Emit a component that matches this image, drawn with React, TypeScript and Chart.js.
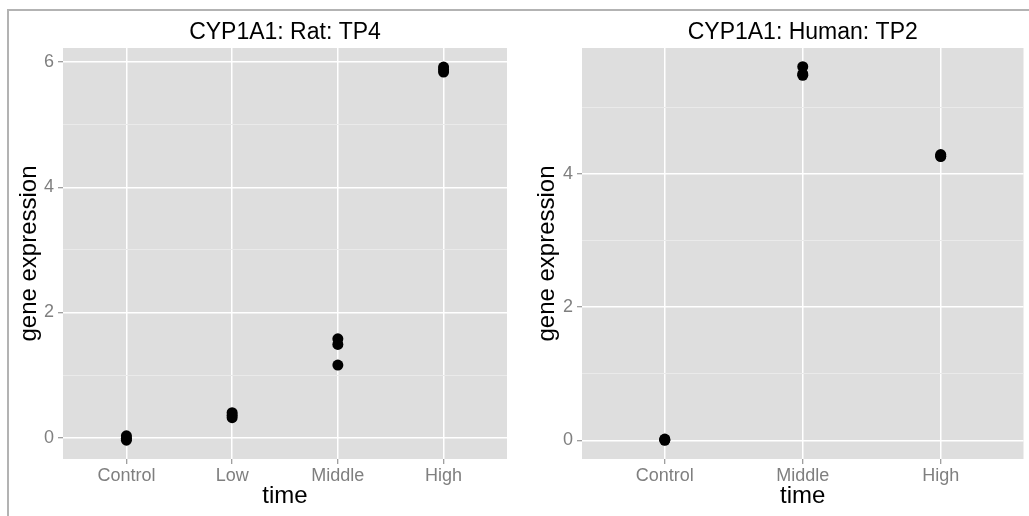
import React, { useEffect, useRef } from "react";
import { Chart, registerables } from "chart.js";

Chart.register(...registerables);

// ---------- data ----------
const ratCategories = ["Control", "Low", "Middle", "High"];
const ratControl = [0.03, -0.01, -0.04];
const ratLow = [0.4, 0.36, 0.32];
const ratMiddle = [1.58, 1.49, 1.16];
const ratHigh = [5.92, 5.88, 5.84];
const ratYTicks = [0, 1, 2, 3, 4, 5, 6];

const humanCategories = ["Control", "Middle", "High"];
const humanControl = [0.02, 0.01, 0.0];
const humanMiddle = [5.61, 5.5, 5.48];
const humanHigh = [4.29, 4.27, 4.26];
const humanYTicks = [0, 1, 2, 3, 4, 5];

const FONT = "'Liberation Sans', Arial, Helvetica, sans-serif";

type Panel = {
  title: string;
  categories: string[];
  groups: number[][];
  yMin: number;
  yMax: number;
  yTicks: number[];
  canvasLeft: number;
  canvasWidth: number;
  yAxisWidth: number;
  padRight: number;
  yTitlePad: number;
};

const panels: Panel[] = [
  {
    title: "CYP1A1: Rat: TP4",
    categories: ratCategories,
    groups: [ratControl, ratLow, ratMiddle, ratHigh],
    yMin: -0.34,
    yMax: 6.224,
    yTicks: ratYTicks,
    canvasLeft: 0,
    canvasWidth: 514,
    yAxisWidth: 63,
    padRight: 7,
    yTitlePad: 15,
  },
  {
    title: "CYP1A1: Human: TP2",
    categories: humanCategories,
    groups: [humanControl, humanMiddle, humanHigh],
    yMin: -0.28,
    yMax: 5.89,
    yTicks: humanYTicks,
    canvasLeft: 514,
    canvasWidth: 515,
    yAxisWidth: 68,
    padRight: 3,
    yTitlePad: 19,
  },
];

const panelBg = {
  id: "panelBg",
  beforeDraw(chart: any) {
    const { ctx, chartArea: a } = chart;
    ctx.save();
    ctx.fillStyle = "#DEDEDE";
    ctx.fillRect(a.left, a.top, a.right - a.left, a.bottom - a.top);
    ctx.restore();
  },
};

function PanelChart({ p }: { p: Panel }) {
  const ref = useRef<HTMLCanvasElement | null>(null);
  useEffect(() => {
    if (!ref.current) return;
    const points: { x: number; y: number }[] = [];
    p.groups.forEach((g, i) => g.forEach((v) => points.push({ x: i + 1, y: v })));
    const even = (ctx: any) => ctx.tick && Math.round(ctx.tick.value) % 2 === 0;
    const chart = new Chart(ref.current, {
      type: "scatter",
      data: {
        datasets: [
          {
            data: points,
            backgroundColor: "#000",
            borderColor: "#000",
            borderWidth: 0,
            pointRadius: 5.5,
            pointHoverRadius: 5.5,
          },
        ],
      },
      options: {
        responsive: false,
        animation: false,
        events: [],
        layout: { padding: { left: 0, right: p.padRight, top: 0, bottom: 0 } },
        plugins: {
          legend: { display: false },
          tooltip: { enabled: false },
          title: {
            display: true,
            text: p.title,
            fullSize: false,
            color: "#000",
            font: { family: FONT, size: 23, weight: "normal" },
            padding: { top: 19.2, bottom: 1.2 },
          },
        },
        scales: {
          x: {
            type: "linear",
            min: 0.4,
            max: p.categories.length + 0.6,
            afterBuildTicks: (s: any) => {
              s.ticks = p.categories.map((_, i) => ({ value: i + 1 }));
            },
            afterFit: (s: any) => {
              s.height = 57;
            },
            ticks: {
              autoSkip: false,
              maxRotation: 0,
              minRotation: 0,
              padding: 1,
              color: "#7f7f7f",
              font: { family: FONT, size: 18 },
              callback: (v: any) => p.categories[Math.round(v) - 1] ?? "",
            },
            grid: {
              color: "#ffffff",
              lineWidth: 1.5,
              tickColor: "#7f7f7f",
              tickLength: 5,
              tickWidth: 1,
            },
            border: { display: false },
            title: {
              display: true,
              text: "time",
              color: "#000",
              font: { family: FONT, size: 24 },
              padding: { top: 0, bottom: 5 },
            },
          },
          y: {
            type: "linear",
            min: p.yMin,
            max: p.yMax,
            afterBuildTicks: (s: any) => {
              s.ticks = p.yTicks.map((v) => ({ value: v }));
            },
            afterFit: (s: any) => {
              s.width = p.yAxisWidth;
            },
            ticks: {
              padding: 4,
              color: "#7f7f7f",
              font: { family: FONT, size: 18 },
              callback: (v: any) => (Math.round(v) % 2 === 0 ? String(Math.round(v)) : ""),
            },
            grid: {
              color: (ctx: any) => (even(ctx) ? "#ffffff" : "#EAEAEA"),
              lineWidth: (ctx: any) => (even(ctx) ? 1.5 : 1),
              tickColor: (ctx: any) => (even(ctx) ? "#7f7f7f" : "rgba(0,0,0,0)"),
              tickLength: 5,
              tickWidth: 1,
            },
            border: { display: false },
            title: {
              display: true,
              text: "gene expression",
              color: "#000",
              font: { family: FONT, size: 24 },
              padding: { top: p.yTitlePad, bottom: 0 },
            },
          },
        },
      } as any,
      plugins: [panelBg],
    });
    return () => chart.destroy();
  }, [p]);
  return (
    <canvas
      ref={ref}
      width={p.canvasWidth}
      height={516}
      style={{
        position: "absolute",
        left: p.canvasLeft,
        top: 0,
        width: p.canvasWidth,
        height: 516,
        display: "block",
      }}
    />
  );
}

export default function App() {
  return (
    <div
      style={{
        position: "absolute",
        left: 0,
        top: 0,
        width: 1029,
        height: 516,
        background: "#fff",
        overflow: "hidden",
      }}
    >
      {panels.map((p) => (
        <PanelChart key={p.title} p={p} />
      ))}
      <div
        style={{
          position: "absolute",
          left: 7,
          top: 9,
          width: 1029 - 7,
          height: 516 - 9,
          boxSizing: "border-box",
          borderTop: "2px solid #b3b3b3",
          borderLeft: "2px solid #b3b3b3",
          pointerEvents: "none",
        }}
      />
    </div>
  );
}
